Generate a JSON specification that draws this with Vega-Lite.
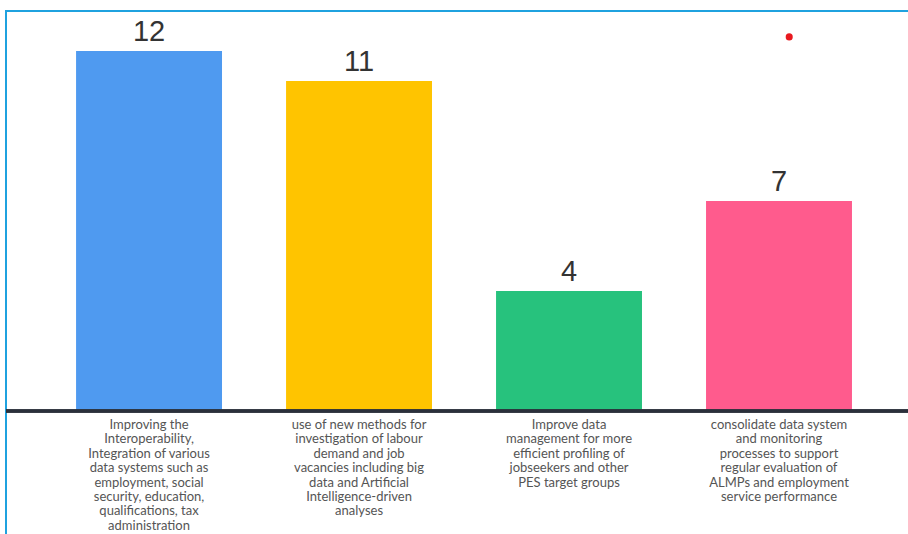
{
  "$schema": "https://vega.github.io/schema/vega-lite/v6.json",
  "width": 904,
  "height": 528,
  "autosize": "none",
  "padding": {"left": 6, "top": 11, "right": 0, "bottom": 0},
  "background": "white",
  "config": {"view": {"stroke": "#1FA2DF", "strokeWidth": 2}},
  "datasets": {
    "bars": [
      {"category": "Interoperability", "value": 12, "lines": ["Improving the", "Interoperability,", "Integration of various", "data systems such as", "employment, social", "security, education,", "qualifications, tax", "administration"]},
      {"category": "New methods", "value": 11, "lines": ["use of new methods for", "investigation of labour", "demand and job", "vacancies including big", "data and Artificial", "Intelligence-driven", "analyses"]},
      {"category": "Data management", "value": 4, "lines": ["Improve data", "management for more", "efficient profiling of", "jobseekers and other", "PES target groups"]},
      {"category": "Monitoring", "value": 7, "lines": ["consolidate data system", "and monitoring", "processes to support", "regular evaluation of", "ALMPs and employment", "service performance"]}
    ],
    "dot": [
      {"category": "Monitoring", "value": 12.47}
    ]
  },
  "data": {"name": "bars"},
  "encoding": {
    "x": {
      "field": "category",
      "type": "nominal",
      "sort": null,
      "scale": {"paddingInner": 0.305, "paddingOuter": 0.305, "align": 0.547},
      "axis": null
    }
  },
  "layer": [
    {
      "mark": {"type": "bar"},
      "encoding": {
        "y": {"field": "value", "type": "quantitative", "scale": {"domain": [-4.2667, 13.3333], "nice": false, "zero": false}, "axis": null},
        "color": {
          "field": "category",
          "type": "nominal",
          "sort": null,
          "scale": {"range": ["#4F9AF0", "#FFC400", "#27C27D", "#FF5B8D"]},
          "legend": null
        }
      }
    },
    {
      "mark": {"type": "rule", "color": "#2B303B", "strokeWidth": 3},
      "encoding": {
        "x": null,
        "y": {"datum": 0, "type": "quantitative"}
      }
    },
    {
      "mark": {"type": "text", "baseline": "alphabetic", "align": "center", "dy": -10, "fontSize": 29, "font": "Liberation Sans", "color": "#333333"},
      "encoding": {
        "y": {"field": "value", "type": "quantitative"},
        "text": {"field": "value", "type": "quantitative"}
      }
    },
    {
      "mark": {"type": "text", "baseline": "top", "align": "center", "dy": 8, "fontSize": 13, "lineHeight": 14.4, "font": "Lato", "color": "#555555"},
      "encoding": {
        "y": {"datum": 0, "type": "quantitative"},
        "text": {"field": "lines", "type": "nominal"}
      }
    },
    {
      "data": {"name": "dot"},
      "mark": {"type": "circle", "color": "#E8191F", "size": 50, "opacity": 1},
      "encoding": {
        "x": {"field": "category", "type": "nominal", "sort": null, "bandPosition": 0.57},
        "y": {"field": "value", "type": "quantitative"}
      }
    }
  ]
}
